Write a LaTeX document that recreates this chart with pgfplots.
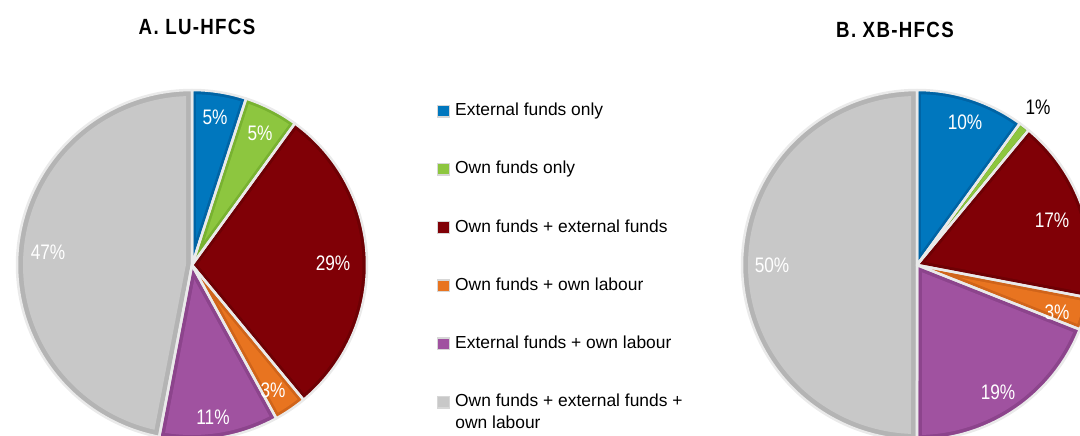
\documentclass[border=0pt]{standalone}
\usepackage{fontspec}
\setmainfont{Liberation Sans}
\newfontfamily\lblfont{Liberation Sans}[FakeStretch=0.82]
\newfontfamily\ttlfont{Liberation Sans}[FakeStretch=0.85,LetterSpace=6]
\usepackage{pgfplots}
\pgfplotsset{compat=1.18}

\definecolor{pblue}{RGB}{0,119,190}
\definecolor{dblue}{RGB}{0,100,165}
\definecolor{pgreen}{RGB}{141,198,63}
\definecolor{dgreen}{RGB}{120,178,48}
\definecolor{pred}{RGB}{128,0,6}
\definecolor{dred}{RGB}{110,0,4}
\definecolor{porange}{RGB}{232,116,32}
\definecolor{dorange}{RGB}{208,100,26}
\definecolor{ppurple}{RGB}{160,82,160}
\definecolor{dpurple}{RGB}{140,68,140}
\definecolor{pgray}{RGB}{200,200,200}
\definecolor{dgray}{RGB}{180,180,180}
\definecolor{sepline}{RGB}{234,234,234}
\definecolor{sqframe}{RGB}{215,215,215}

% one pie slice: #1 cx, #2 cy, #3 r, #4 percentage, #5 colour, #6 edge colour, #7 band width
\def\pscum{0}
\newcommand\pieslice[7]{%
  \pgfmathsetmacro\psHi{90-3.6*\pscum}%
  \pgfmathsetmacro\psLo{90-3.6*(\pscum+#4)}%
  \pgfmathsetmacro\psHalf{(\psHi-\psLo)/2}%
  \pgfmathsetmacro\psMd{(\psHi+\psLo)/2}%
  \pgfmathsetmacro\psApd{#7/sin(\psHalf)}%
  \pgfmathsetmacro\psAx{#1+\psApd*cos(\psMd)}%
  \pgfmathsetmacro\psAy{#2+\psApd*sin(\psMd)}%
  \pgfmathsetmacro\psRi{#3-#7}%
  \pgfmathsetmacro\psDl{asin(#7/\psRi)}%
  \pgfmathsetmacro\psIlo{\psLo+\psDl}%
  \pgfmathsetmacro\psIhi{\psHi-\psDl}%
  \edef\psDo{%
    \noexpand\addplot[forget plot, fill=#6, draw=none, domain=\psLo:\psHi, samples=100, variable=\noexpand\t]
      ({#1+#3*cos(\noexpand\t)},{#2+#3*sin(\noexpand\t)}) -- (axis cs:#1,#2) -- cycle;
    \noexpand\addplot[forget plot, fill=#5, draw=none, domain=\psIlo:\psIhi, samples=100, variable=\noexpand\t]
      ({#1+\psRi*cos(\noexpand\t)},{#2+\psRi*sin(\noexpand\t)}) -- (axis cs:\psAx,\psAy) -- cycle;
  }\psDo
  \pgfmathsetmacro\psNew{\pscum+#4}\xdef\pscum{\psNew}%
}
% outline of one slice: #1 cx, #2 cy, #3 r, #4 percentage
\newcommand\pieoutline[4]{%
  \pgfmathsetmacro\psHi{90-3.6*\pscum}%
  \pgfmathsetmacro\psLo{90-3.6*(\pscum+#4)}%
  \edef\psDo{%
    \noexpand\addplot[forget plot, draw=sepline, line width=1.25pt, line join=round, fill=none, domain=\psLo:\psHi, samples=100, variable=\noexpand\t]
      ({#1+#3*cos(\noexpand\t)},{#2+#3*sin(\noexpand\t)}) -- (axis cs:#1,#2) -- cycle;
  }\psDo
  \pgfmathsetmacro\psNew{\pscum+#4}\xdef\pscum{\psNew}%
}

\begin{document}
\begin{tikzpicture}
\useasboundingbox (0,0) rectangle (540pt,217.5pt);
\begin{axis}[
  x=0.5pt, y=0.5pt,
  xmin=0, xmax=1080, ymin=0, ymax=435,
  enlargelimits=false,
  hide axis,
  clip=true,
  legend image code/.code={\draw[#1,draw=sqframe,line width=0.7pt] (0pt,-2.9pt) rectangle (5.8pt,2.9pt);},
  legend style={at={(axis cs:437,332)}, anchor=north west, draw=none, fill=none,
    inner sep=0pt, outer sep=0pt, row sep=21pt, column sep=2.6pt,
    font=\fontsize{8.7}{10}\selectfont,
    nodes={inner sep=0pt, text height=6.3pt, text depth=1.8pt}},
  legend cell align=left,
]
% ---- A. LU-HFCS (percent) : 5, 5, 29, 3, 11, 47
\xdef\pscum{0}
\pieslice{192}{170}{175}{5}{pblue}{dblue}{4.2}
\pieslice{192}{170}{175}{5}{pgreen}{dgreen}{4.2}
\pieslice{192}{170}{175}{29}{pred}{dred}{4.5}
\pieslice{192}{170}{175}{3}{porange}{dorange}{4.2}
\pieslice{192}{170}{175}{11}{ppurple}{dpurple}{5}
\pieslice{192}{170}{175}{47}{pgray}{dgray}{6}
\xdef\pscum{0}
\pieoutline{192}{170}{175}{5}
\pieoutline{192}{170}{175}{5}
\pieoutline{192}{170}{175}{29}
\pieoutline{192}{170}{175}{3}
\pieoutline{192}{170}{175}{11}
\pieoutline{192}{170}{175}{47}
% ---- B. XB-HFCS (percent) : 10, 1, 17, 3, 19, 50
\xdef\pscum{0}
\pieslice{917}{170}{175}{10}{pblue}{dblue}{4.2}
\pieslice{917}{170}{175}{1}{pgreen}{dgreen}{2}
\pieslice{917}{170}{175}{17}{pred}{dred}{4.5}
\pieslice{917}{170}{175}{3}{porange}{dorange}{4.2}
\pieslice{917}{170}{175}{19}{ppurple}{dpurple}{5}
\pieslice{917}{170}{175}{50}{pgray}{dgray}{6}
\xdef\pscum{0}
\pieoutline{917}{170}{175}{10}
\pieoutline{917}{170}{175}{1}
\pieoutline{917}{170}{175}{17}
\pieoutline{917}{170}{175}{3}
\pieoutline{917}{170}{175}{19}
\pieoutline{917}{170}{175}{50}

\addlegendimage{fill=pblue}\addlegendentry{External funds only}
\addlegendimage{fill=pgreen}\addlegendentry{Own funds only}
\addlegendimage{fill=pred}\addlegendentry{Own funds + external funds}
\addlegendimage{fill=porange}\addlegendentry{Own funds + own labour}
\addlegendimage{fill=ppurple}\addlegendentry{External funds + own labour}
\addlegendimage{fill=pgray}\addlegendentry{Own funds + external funds +}

% titles
\node[font=\ttlfont\bfseries\fontsize{11}{13}\selectfont] at (axis cs:197,408) {A. LU-HFCS};
\node[font=\ttlfont\bfseries\fontsize{11}{13}\selectfont] at (axis cs:895,405) {B. XB-HFCS};
% second line of the last legend entry
\node[anchor=base west, inner sep=0pt, font=\fontsize{8.7}{10}\selectfont] at (axis cs:455,7) {own labour};

% value labels
\begin{scope}[every node/.style={text=white, font=\lblfont\fontsize{10.5}{12}\selectfont}]
\node at (axis cs:215,318) {5\%};
\node at (axis cs:260,302) {5\%};
\node at (axis cs:333,172) {29\%};
\node at (axis cs:273,45) {3\%};
\node at (axis cs:213,18) {11\%};
\node at (axis cs:48,183) {47\%};
\node at (axis cs:965,313) {10\%};
\node at (axis cs:1052,215) {17\%};
\node at (axis cs:1057,123) {3\%};
\node at (axis cs:998,43) {19\%};
\node at (axis cs:772,170) {50\%};
\end{scope}
\node[text=black, font=\lblfont\fontsize{10.5}{12}\selectfont] at (axis cs:1038,328) {1\%};
\end{axis}
\end{tikzpicture}
\end{document}
